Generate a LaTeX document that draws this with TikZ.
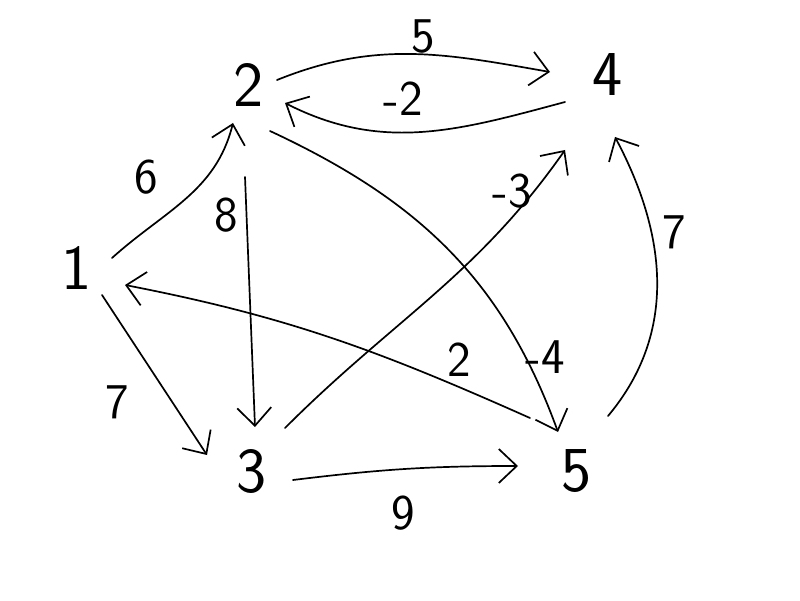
\documentclass[tikz,border=0pt]{standalone}
\usetikzlibrary{arrows.meta}
\begin{document}
\begin{tikzpicture}[x=1pt,y=1pt,
  vert/.style={circle,minimum size=60pt,inner sep=0pt,font=\sffamily\fontsize{64}{64}\selectfont},
  wt/.style={inner sep=0pt,font=\sffamily\fontsize{50}{50}\selectfont},
  edge/.style={line width=1.7pt,line cap=round,-{Straight Barb[length=18pt,width=34pt,line width=1.7pt]}}]
\useasboundingbox[fill=white] (0,0) rectangle (800,600);
% vertices
\node[vert] (n1) at (77,332) {1};
\node[vert] (n2) at (249,515) {2};
\node[vert] (n3) at (252,128) {3};
\node[vert] (n4) at (608,525) {4};
\node[vert] (n5) at (577,129) {5};
% edges
\draw[edge] ([shift={(35,10)}]n1.center) to[out=42,in=-104] ([shift={(-16,-38)}]n2.center);
\draw[edge] ([shift={(25,-27)}]n1.center) -- ([shift={(-45,17)}]n3.center);
\draw[edge] ([shift={(-4,-92)}]n2.center) -- ([shift={(3,45)}]n3.center);
\draw[edge] ([shift={(28,5)}]n2.center) to[out=22,in=170] ([shift={(-58,3)}]n4.center);
\draw[edge] ([shift={(-43,-27)}]n4.center) to[out=195,in=-27] ([shift={(36,-18)}]n2.center);
\draw[edge] ([shift={(21,-46)}]n2.center) to[out=-25,in=110] ([shift={(-19,39)}]n5.center);
\draw[edge] ([shift={(33,44)}]n3.center) to[out=45,in=235] ([shift={(-43,-75)}]n4.center);
\draw[edge] ([shift={(41,-8)}]n3.center) to[out=7,in=180] ([shift={(-59,5)}]n5.center);
\draw[edge] ([shift={(31,55)}]n5.center) to[out=50,in=-62] ([shift={(7,-62)}]n4.center);
\draw[edge] ([shift={(-47,53)}]n5.center) to[out=156,in=-11] ([shift={(48,-17)}]n1.center);
% weights
\node[wt] (w12) at (146,423) {6};
\node[wt] (w23) at (226,385) {8};
\node[wt] (w13) at (117,198) {7};
\node[wt] (w24) at (423,563) {5};
\node[wt] (w42) at (403,501) {-2};
\node[wt] (w34) at (512,409) {-3};
\node[wt] (w54) at (674,368) {7};
\node[wt] (w51) at (459,240) {2};
\node[wt] (w25) at (545,243) {-4};
\node[wt] (w35) at (403,87) {9};
\end{tikzpicture}
\end{document}
